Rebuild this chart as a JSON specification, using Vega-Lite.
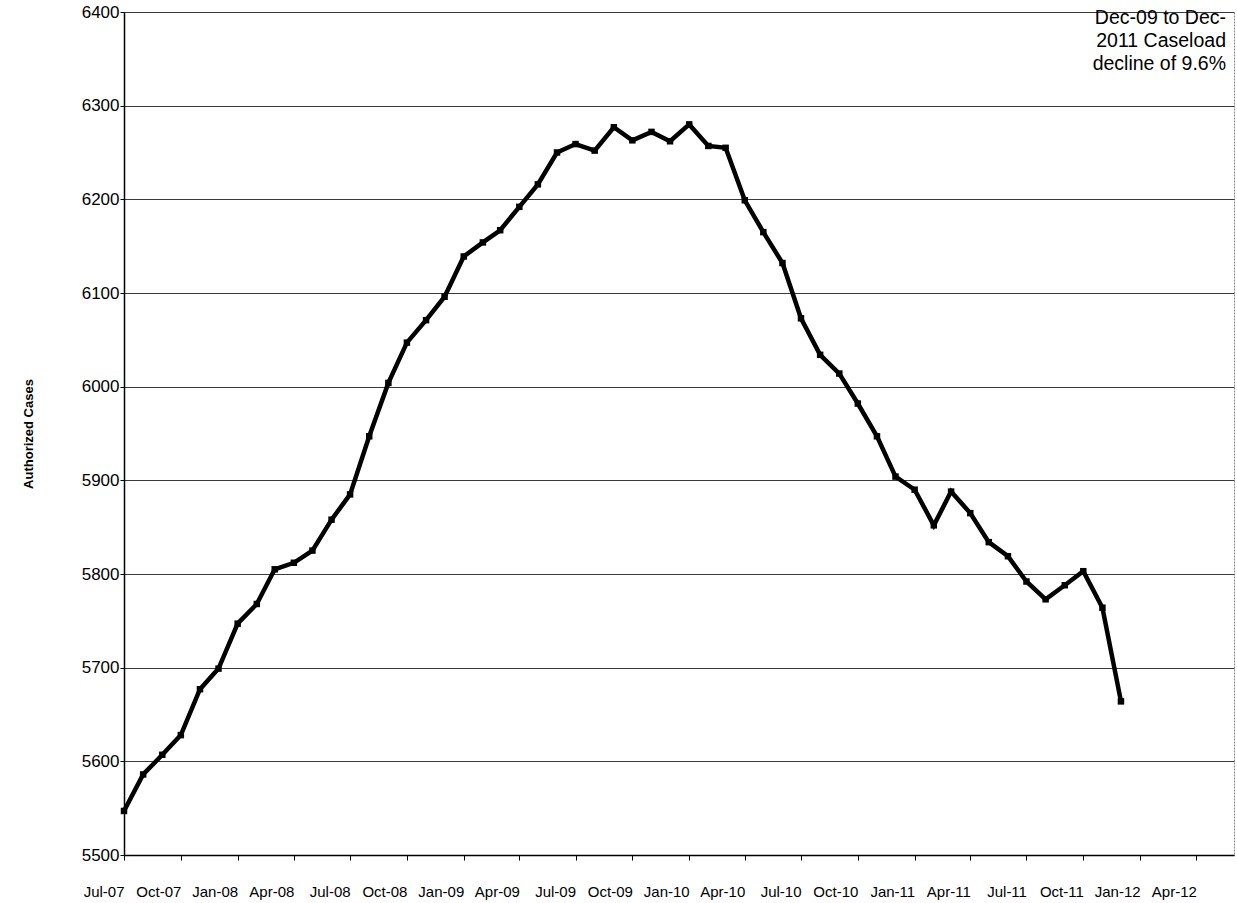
{
  "$schema": "https://vega.github.io/schema/vega-lite/v6.json",
  "width": 1110,
  "height": 843,
  "autosize": "none",
  "padding": {"left": 124, "top": 12, "right": 3, "bottom": 48},
  "background": "white",
  "config": {
    "font": "Liberation Sans",
    "view": {"stroke": "#8a8a8a", "strokeWidth": 1, "strokeDash": [2, 1]}
  },
  "datasets": {
    "cases": [
      {"month": "2007-07-01", "cases": 5547},
      {"month": "2007-08-01", "cases": 5586},
      {"month": "2007-09-01", "cases": 5607},
      {"month": "2007-10-01", "cases": 5628},
      {"month": "2007-11-01", "cases": 5677},
      {"month": "2007-12-01", "cases": 5699},
      {"month": "2008-01-01", "cases": 5747},
      {"month": "2008-02-01", "cases": 5768},
      {"month": "2008-03-01", "cases": 5805},
      {"month": "2008-04-01", "cases": 5812},
      {"month": "2008-05-01", "cases": 5825},
      {"month": "2008-06-01", "cases": 5858},
      {"month": "2008-07-01", "cases": 5885},
      {"month": "2008-08-01", "cases": 5947},
      {"month": "2008-09-01", "cases": 6004},
      {"month": "2008-10-01", "cases": 6047},
      {"month": "2008-11-01", "cases": 6071},
      {"month": "2008-12-01", "cases": 6096},
      {"month": "2009-01-01", "cases": 6139},
      {"month": "2009-02-01", "cases": 6154},
      {"month": "2009-03-01", "cases": 6167},
      {"month": "2009-04-01", "cases": 6192},
      {"month": "2009-05-01", "cases": 6216},
      {"month": "2009-06-01", "cases": 6250},
      {"month": "2009-07-01", "cases": 6259},
      {"month": "2009-08-01", "cases": 6252},
      {"month": "2009-09-01", "cases": 6277},
      {"month": "2009-10-01", "cases": 6263},
      {"month": "2009-11-01", "cases": 6272},
      {"month": "2009-12-01", "cases": 6262},
      {"month": "2010-01-01", "cases": 6280},
      {"month": "2010-02-01", "cases": 6257},
      {"month": "2010-03-01", "cases": 6255},
      {"month": "2010-04-01", "cases": 6199},
      {"month": "2010-05-01", "cases": 6165},
      {"month": "2010-06-01", "cases": 6132},
      {"month": "2010-07-01", "cases": 6073},
      {"month": "2010-08-01", "cases": 6034},
      {"month": "2010-09-01", "cases": 6014},
      {"month": "2010-10-01", "cases": 5982},
      {"month": "2010-11-01", "cases": 5947},
      {"month": "2010-12-01", "cases": 5904},
      {"month": "2011-01-01", "cases": 5890},
      {"month": "2011-02-01", "cases": 5852},
      {"month": "2011-03-01", "cases": 5888},
      {"month": "2011-04-01", "cases": 5865},
      {"month": "2011-05-01", "cases": 5834},
      {"month": "2011-06-01", "cases": 5819},
      {"month": "2011-07-01", "cases": 5792},
      {"month": "2011-08-01", "cases": 5773},
      {"month": "2011-09-01", "cases": 5788},
      {"month": "2011-10-01", "cases": 5803},
      {"month": "2011-11-01", "cases": 5764},
      {"month": "2011-12-01", "cases": 5664}
    ],
    "note": [
      {"month": "2012-06-01", "cases": 6400, "label": ["Dec-09 to Dec-", "2011 Caseload", "decline of 9.6%"]}
    ]
  },
  "layer": [
    {
      "data": {"name": "cases"},
      "mark": {
        "type": "line",
        "color": "black",
        "strokeWidth": 4.5,
        "strokeJoin": "miter",
        "point": {"shape": "square", "size": 42, "filled": true, "color": "black"}
      },
      "encoding": {
        "x": {
          "field": "month",
          "type": "temporal",
          "scale": {"domain": ["2007-07-01", "2012-06-01"]},
          "axis": {
            "title": null,
            "format": "%b-%y",
            "values": ["2007-07-01", "2007-10-01", "2008-01-01", "2008-04-01", "2008-07-01", "2008-10-01", "2009-01-01", "2009-04-01", "2009-07-01", "2009-10-01", "2010-01-01", "2010-04-01", "2010-07-01", "2010-10-01", "2011-01-01", "2011-04-01", "2011-07-01", "2011-10-01", "2012-01-01", "2012-04-01"],
            "grid": false,
            "domainColor": "black",
            "domainWidth": 1.5,
            "tickColor": "black",
            "tickSize": 5,
            "labelAlign": "right",
            "labelDx": 4,
            "labelPadding": 24,
            "labelFontSize": 15,
            "labelColor": "black",
            "labelFlush": false,
            "labelOverlap": false
          }
        },
        "y": {
          "field": "cases",
          "type": "quantitative",
          "scale": {"domain": [5500, 6400], "nice": false, "zero": false},
          "axis": {
            "title": "Authorized Cases",
            "titleFontSize": 13,
            "titleFontWeight": "bold",
            "titleColor": "black",
            "titlePadding": 46,
            "values": [5500, 5600, 5700, 5800, 5900, 6000, 6100, 6200, 6300, 6400],
            "format": "d",
            "grid": true,
            "gridColor": "#3a3a3a",
            "gridWidth": 1,
            "domainColor": "black",
            "domainWidth": 1.5,
            "tickColor": "black",
            "tickSize": 4,
            "labelPadding": 1,
            "labelFontSize": 17,
            "labelColor": "black"
          }
        }
      }
    },
    {
      "data": {"name": "note"},
      "mark": {
        "type": "text",
        "align": "right",
        "baseline": "top",
        "dx": -8,
        "dy": -3,
        "fontSize": 19.5,
        "lineHeight": 23,
        "color": "black"
      },
      "encoding": {
        "x": {"field": "month", "type": "temporal"},
        "y": {"field": "cases", "type": "quantitative"},
        "text": {"field": "label"}
      }
    }
  ]
}
